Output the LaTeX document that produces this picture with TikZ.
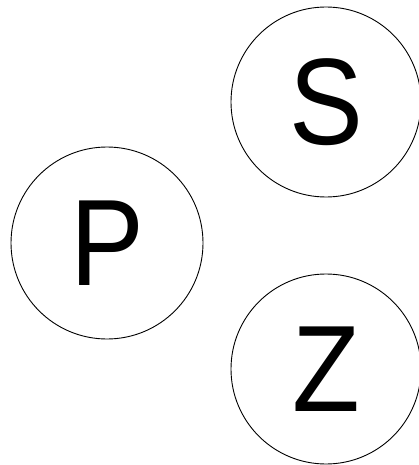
\documentclass[tikz,border=0pt]{standalone}
\usepackage{fontspec}
\setmainfont[FakeStretch=0.9]{Liberation Sans}
\begin{document}
\begin{tikzpicture}[x=1pt,y=-1pt,
  letter/.style={draw=black,line width=0.9pt,circle,minimum size=190pt,inner sep=0pt,
    font=\fontsize{123}{123}\selectfont}]
\useasboundingbox (0,0) rectangle (419,465);
\node[letter] (S) at (326,102) {S};
\node[letter,minimum size=192pt] (P) at (107,243) {P};
\node[letter] (Z) at (326,369) {Z};
\end{tikzpicture}
\end{document}
